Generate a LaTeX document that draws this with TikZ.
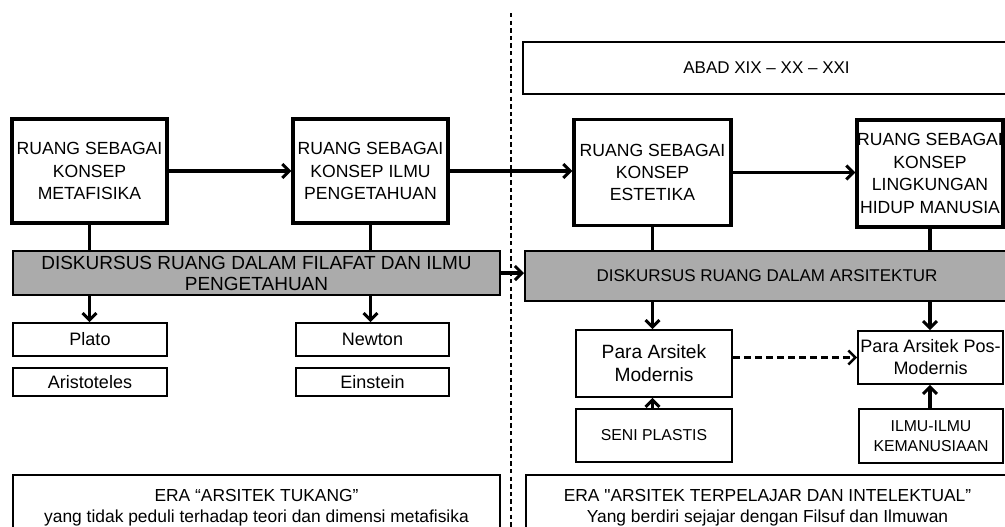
\documentclass[tikz,border=0pt]{standalone}
\usepackage{fontspec}
\setmainfont{Liberation Sans}
\newfontfamily\plainq{Liberation Sans}
\usetikzlibrary{arrows.meta}
\begin{document}
\begin{tikzpicture}[x=0.5pt,y=-0.5pt,
  bigbox/.style={draw, line width=1.6pt, align=center, inner sep=0pt, font=\fontsize{8.8}{11.2}\selectfont},
  smallbox/.style={draw, line width=0.8pt, align=center, inner sep=0pt, font=\fontsize{9}{11}\selectfont},
  tinybox/.style={draw, line width=0.8pt, align=center, inner sep=0pt, font=\fontsize{7.9}{10}\selectfont},
  barbox/.style={draw, line width=1pt, fill=black!33, align=center, inner sep=0pt},
  conn/.style={line width=1.6pt},
  arr/.style={line width=1.6pt, -{Straight Barb[length=3.5pt,width=7pt,line width=1.5pt]}},
  darr/.style={line width=1.2pt, dash pattern=on 3.5pt off 2pt, -{Straight Barb[length=3.5pt,width=7pt,line width=1.3pt]}},
  divider/.style={line width=1pt, dash pattern=on 2.2pt off 1.6pt}
]
\clip (0,0) rectangle (1005,526);
\fill[white] (0,0) rectangle (1005,526);

% divider
\coordinate (dtop) at (511,13);
\coordinate (dbot) at (511,530);
\draw[divider] (dtop) -- (dbot);

% top header
\node[draw, line width=0.9pt, minimum width=243.5pt, minimum height=26pt, inner sep=0pt, font=\fontsize{8.5}{11}\selectfont] (abad) at (766.5,68) {ABAD XIX -- XX -- XXI};

% main concept boxes
\node[bigbox, minimum width=77.5pt, minimum height=52pt] (b1) at (89.5,171) {RUANG SEBAGAI\\KONSEP\\METAFISIKA};
\node[bigbox, minimum width=77.5pt, minimum height=52pt] (b2) at (370.5,171) {RUANG SEBAGAI\\KONSEP ILMU\\PENGETAHUAN};
\node[bigbox, minimum width=78.5pt, minimum height=53pt] (b3) at (652.5,172.5) {RUANG SEBAGAI\\KONSEP\\ESTETIKA};
\node[bigbox, minimum width=73pt, minimum height=53.5pt] (b4) at (930,173.5) {RUANG SEBAGAI\\KONSEP\\LINGKUNGAN\\HIDUP MANUSIA};

% discourse bars
\node[barbox, minimum width=243.5pt, minimum height=22pt, font=\fontsize{9.5}{10.5}\selectfont] (bar1) at (256.5,273) {DISKURSUS RUANG DALAM FILAFAT DAN ILMU\\PENGETAHUAN};
\node[barbox, minimum width=242pt, minimum height=25pt, font=\fontsize{8.5}{10.5}\selectfont] (bar2) at (767,276) {DISKURSUS RUANG DALAM ARSITEKTUR};

% persons
\node[smallbox, minimum width=77pt, minimum height=16.5pt] (plato) at (90,339.5) {Plato};
\node[smallbox, minimum width=77pt, minimum height=14pt] (aris) at (90,382) {Aristoteles};
\node[smallbox, minimum width=76.5pt, minimum height=16.5pt] (newton) at (372.5,339.5) {Newton};
\node[smallbox, minimum width=76.5pt, minimum height=14pt] (einstein) at (372.5,382) {Einstein};

% architects
\node[smallbox, minimum width=78pt, minimum height=33.5pt, font=\fontsize{9.6}{11.5}\selectfont] (mod) at (654,363.5) {Para Arsitek\\Modernis};
\node[smallbox, minimum width=72.5pt, minimum height=26.5pt] (pos) at (930.5,357.5) {Para Arsitek Pos-\\Modernis};
\node[tinybox, minimum width=78pt, minimum height=26.5pt] (seni) at (654,435.5) {SENI PLASTIS};
\node[tinybox, minimum width=72pt, minimum height=27pt] (ilmu) at (931,436) {ILMU-ILMU\\KEMANUSIAAN};

% eras
\node[smallbox, minimum width=243.5pt, minimum height=32.5pt, font=\fontsize{8.7}{10.5}\selectfont] (era1) at (256.5,507.5) {ERA “ARSITEK TUKANG”\\yang tidak peduli terhadap teori dan dimensi metafisika};
\node[smallbox, minimum width=241.5pt, minimum height=32.5pt, font=\fontsize{8.7}{10.5}\selectfont] (era2) at (767.5,507.5) {ERA {\plainq"}ARSITEK TERPELAJAR DAN INTELEKTUAL”\\Yang berdiri sejajar dengan Filsuf dan Ilmuwan};

% horizontal arrows between concepts
\draw[arr] (b1.east) -- (b2.west);
\draw[arr] (b2.east) -- (b2.east -| b3.west);
\draw[arr] (b3.east) -- (b3.east -| b4.west);

% concept boxes to bars
\draw[conn] (b1.south) -- (b1.south |- bar1.north);
\draw[conn] (b2.south) -- (b2.south |- bar1.north);
\draw[conn] (b3.south) -- (b3.south |- bar2.north);
\draw[conn] (b4.south) -- (b4.south |- bar2.north);

% bar to bar
\draw[arr] (bar1.east) -- (bar1.east -| bar2.west);

% bars to persons
\draw[arr] (b1.south |- bar1.south) -- (b1.south |- plato.north);
\draw[arr] (b2.south |- bar1.south) -- (b2.south |- newton.north);
\draw[arr] (b3.south |- bar2.south) -- (b3.south |- mod.north);
\draw[arr] (b4.south |- bar2.south) -- (b4.south |- pos.north);

% dashed arrow
\draw[darr] (pos.west -| mod.east) -- (pos.west);

% upward arrows
\draw[arr] (b3.south |- seni.north) -- (b3.south |- mod.south);
\draw[arr] (b4.south |- ilmu.north) -- (b4.south |- pos.south);
\end{tikzpicture}
\end{document}
